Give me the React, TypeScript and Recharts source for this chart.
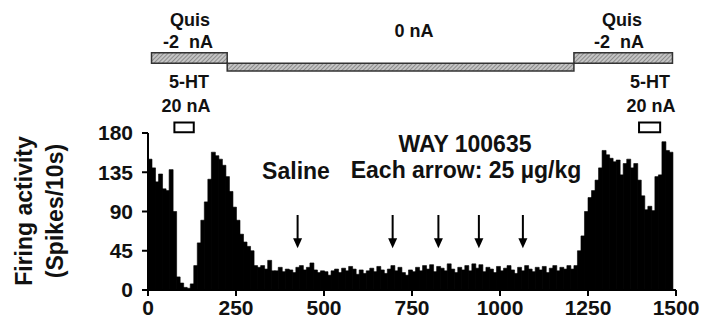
import {
  Bar,
  BarChart,
  ReferenceArea,
  ReferenceDot,
  ReferenceLine,
  XAxis,
  YAxis,
} from "recharts";

const FONT = '"Liberation Sans", Arial, sans-serif';
const BIN_SECONDS = 10;

// spikes per 10 s bin
const firstQuisCounts = [
  150, 140, 124, 133, 116, 114, 138, 90, 15, 8, 3, 2, 7, 28, 54, 80, 101, 127,
  158, 154, 150, 143, 130, 113, 95,
];
const recoveryCounts = [80, 64, 55, 50, 45, 28, 26, 28, 24, 34, 22];
const drugCounts = [
  22, 26, 21, 24, 23, 20, 26, 28, 23, 26, 31, 23, 20, 22, 21, 17, 22, 24, 20,
  25, 22, 27, 24, 18, 23, 19, 22, 25, 21, 27, 23, 19, 24, 28, 22, 26, 20, 17,
  23, 21, 26, 22, 28, 24, 29, 21, 27, 25, 22, 30, 24, 20, 26, 23, 28, 22, 30,
  25, 29, 21, 26, 24, 20, 27, 22, 25, 28, 23, 19, 26, 22, 28, 24, 21, 26, 23,
  27, 20, 25, 28, 22, 26, 24, 28, 24, 28,
];
const secondQuisCounts = [
  45, 62, 90, 106, 114, 126, 140, 160, 155, 151, 147, 149, 132, 145, 150, 140,
  145, 126, 108, 92, 96, 91, 130, 132, 170, 160, 158,
];

const xTicks = [0, 250, 500, 750, 1000, 1250, 1500];
const yTicks = [0, 45, 90, 135, 180];

// injections (s)
const injectionTimes = [425, 695, 825, 940, 1065];
// ejection current periods (s)
const quisPeriods = [
  [10, 225],
  [1210, 1490],
];
const zeroCurrentPeriod = [225, 1210];
const serotoninPeriods = [
  [75, 130],
  [1395, 1455],
];

const counts = [
  ...firstQuisCounts,
  ...recoveryCounts,
  ...drugCounts,
  ...secondQuisCounts,
];
const data = counts.map((v, i) => ({
  t: i * BIN_SECONDS + BIN_SECONDS / 2,
  spikes: v,
}));

function ArrowHead(props: any) {
  const { cx, cy } = props;
  return (
    <path
      d={`M${cx - 4.5},${cy - 10} L${cx + 4.5},${cy - 10} L${cx},${cy} Z`}
      fill="#000"
    />
  );
}

function Txt({
  x,
  y,
  size = 18,
  rotate = false,
  children,
}: {
  x: number;
  y: number;
  size?: number;
  rotate?: boolean;
  children: any;
}) {
  return (
    <div
      style={{
        position: "absolute",
        left: x,
        top: y,
        transform: `translate(-50%, -50%)${rotate ? " rotate(-90deg)" : ""}`,
        fontFamily: FONT,
        fontWeight: 700,
        fontSize: size,
        whiteSpace: "pre",
        color: "#111",
        lineHeight: 1,
      }}
    >
      {children}
    </div>
  );
}

export default function App() {
  const tickStyle = {
    fill: "#111",
    fontSize: 21,
    fontWeight: 700,
    fontFamily: FONT,
  };
  return (
    <div
      style={{
        position: "absolute",
        left: 0,
        top: 0,
        width: 702,
        height: 332,
        background: "#fff",
        overflow: "hidden",
      }}
    >
      <BarChart
        width={702}
        height={332}
        data={data}
        margin={{ top: 133, right: 26, bottom: 12, left: 88 }}
        barCategoryGap={0}
        barGap={0}
      >
        <defs>
          <pattern
            id="hatch"
            width="3"
            height="3"
            patternUnits="userSpaceOnUse"
            patternTransform="rotate(45)"
          >
            <rect width="3" height="3" fill="#c4c4c4" />
            <line x1="0" y1="0" x2="0" y2="3" stroke="#666" strokeWidth="1.2" />
          </pattern>
        </defs>
        <XAxis
          dataKey="t"
          type="number"
          domain={[0, 1500]}
          ticks={xTicks}
          interval={0}
          height={30}
          tick={tickStyle}
          tickSize={6}
          tickMargin={4}
          axisLine={{ stroke: "#000", strokeWidth: 2 }}
          tickLine={{ stroke: "#000", strokeWidth: 2 }}
        />
        <YAxis
          domain={[0, 180]}
          ticks={yTicks}
          interval={0}
          width={60}
          tick={tickStyle}
          tickSize={6}
          tickMargin={9}
          axisLine={{ stroke: "#000", strokeWidth: 2 }}
          tickLine={{ stroke: "#000", strokeWidth: 2 }}
        />
        <Bar
          dataKey="spikes"
          fill="#000"
          stroke="#000"
          strokeWidth={0.6}
          isAnimationActive={false}
        />
        {quisPeriods.map(([a, b]) => (
          <ReferenceArea
            key={`q${a}`}
            x1={a}
            x2={b}
            y1={260}
            y2={272}
            ifOverflow="visible"
            fill="url(#hatch)"
            fillOpacity={1}
            stroke="#333"
            strokeWidth={1.5}
          />
        ))}
        <ReferenceArea
          x1={zeroCurrentPeriod[0]}
          x2={zeroCurrentPeriod[1]}
          y1={251}
          y2={260}
          ifOverflow="visible"
          fill="url(#hatch)"
          fillOpacity={1}
          stroke="#333"
          strokeWidth={1.5}
        />
        {serotoninPeriods.map(([a, b]) => (
          <ReferenceArea
            key={`s${a}`}
            x1={a}
            x2={b}
            y1={181}
            y2={192}
            ifOverflow="visible"
            fill="#fff"
            fillOpacity={1}
            stroke="#000"
            strokeWidth={2}
          />
        ))}
        {injectionTimes.map((t) => (
          <ReferenceLine
            key={`l${t}`}
            segment={[
              { x: t, y: 86 },
              { x: t, y: 58 },
            ]}
            stroke="#000"
            strokeWidth={2}
            ifOverflow="visible"
          />
        ))}
        {injectionTimes.map((t) => (
          <ReferenceDot
            key={`d${t}`}
            x={t}
            y={48}
            ifOverflow="visible"
            shape={ArrowHead}
          />
        ))}
      </BarChart>

      <Txt x={190} y={20}>Quis</Txt>
      <Txt x={188} y={42}>{"-2  nA"}</Txt>
      <Txt x={414} y={31}>0 nA</Txt>
      <Txt x={622} y={20}>Quis</Txt>
      <Txt x={619} y={42}>{"-2  nA"}</Txt>
      <Txt x={189} y={82}>5-HT</Txt>
      <Txt x={186} y={106}>20 nA</Txt>
      <Txt x={650} y={82}>5-HT</Txt>
      <Txt x={651} y={106}>20 nA</Txt>

      <Txt x={296} y={171} size={23}>Saline</Txt>
      <Txt x={465} y={144} size={23}>WAY 100635</Txt>
      <Txt x={466} y={170} size={23}>Each arrow: 25 µg/kg</Txt>

      <Txt x={24} y={211} size={23} rotate>Firing activity</Txt>
      <Txt x={55} y={211} size={23} rotate>(Spikes/10s)</Txt>
    </div>
  );
}
